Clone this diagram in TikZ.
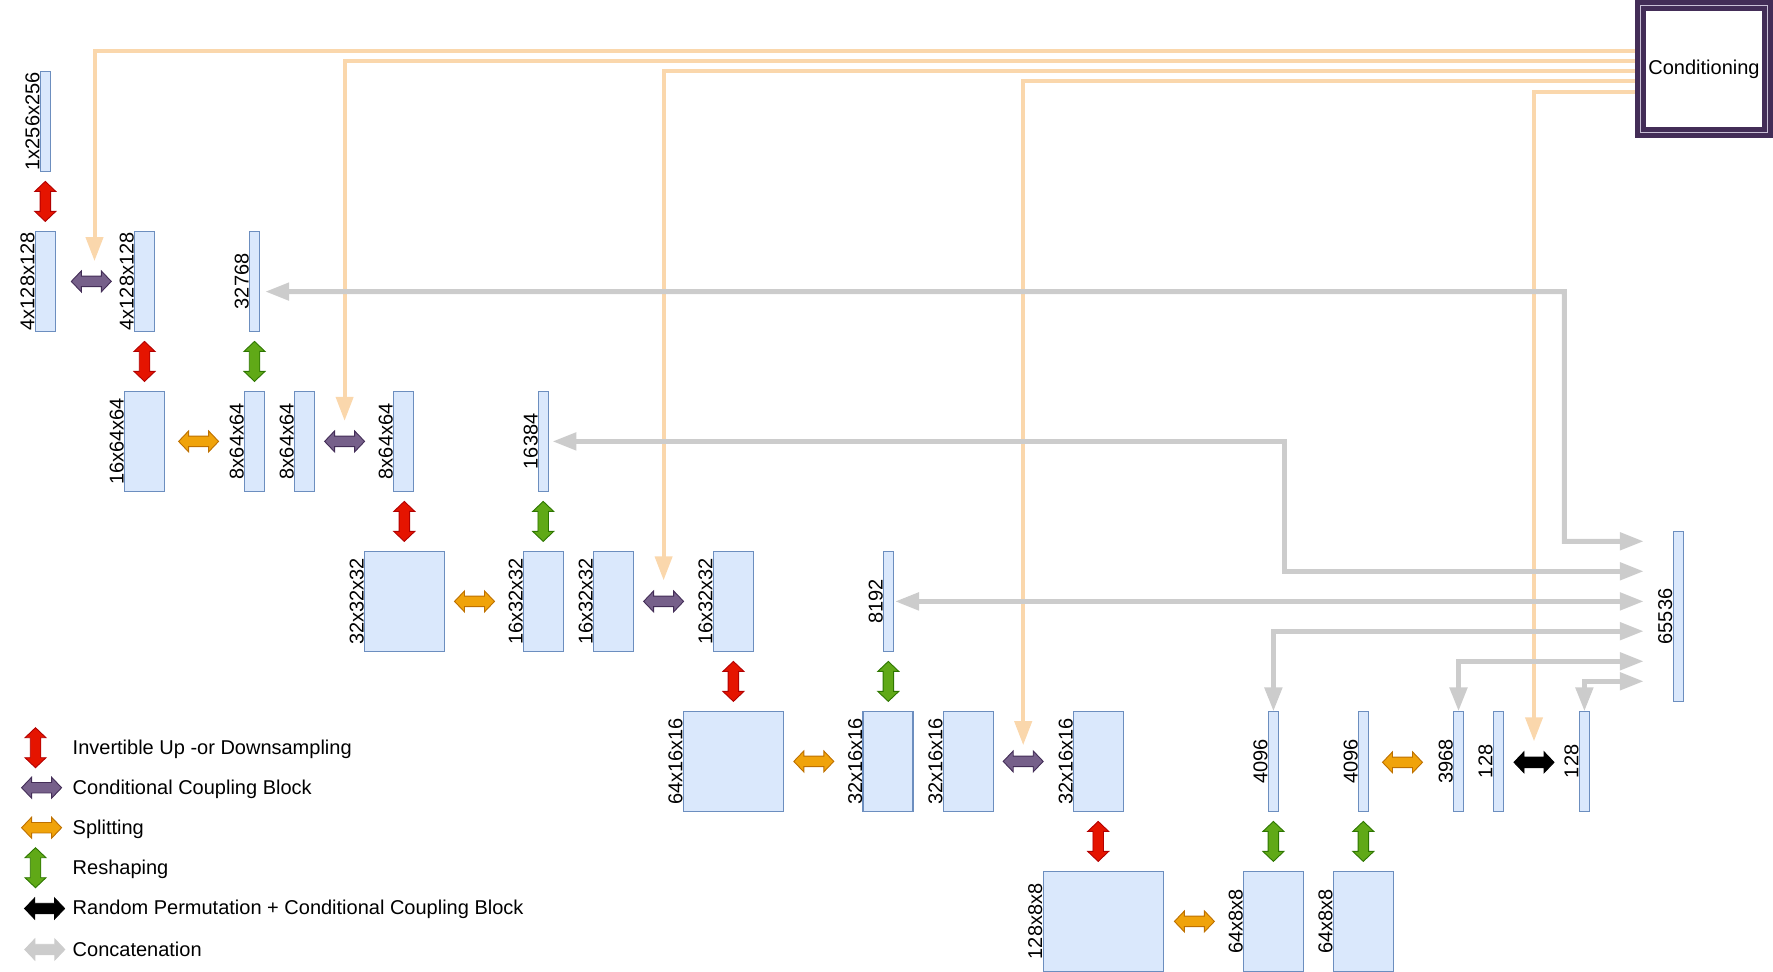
\documentclass[tikz,border=0pt]{standalone}
\usepackage{fontspec}
\setmainfont{Liberation Sans}
\usetikzlibrary{arrows.meta}
\pgfdeclarelayer{bg}
\pgfsetlayers{bg,main}
\definecolor{boxfill}{HTML}{DAE8FC}
\definecolor{boxline}{HTML}{6C8EBF}
\definecolor{redF}{HTML}{E51400}\definecolor{redD}{HTML}{B20000}
\definecolor{purF}{HTML}{76608A}\definecolor{purD}{HTML}{432D57}
\definecolor{orF}{HTML}{F0A30A}\definecolor{orD}{HTML}{BD7000}
\definecolor{grF}{HTML}{60A917}\definecolor{grD}{HTML}{2D7600}
\definecolor{catcol}{HTML}{CCCCCC}
\definecolor{condline}{HTML}{FAD7AC}
\definecolor{condD}{HTML}{432D57}
\definecolor{condL}{HTML}{C9C0D6}
\newcommand\myfs{\fontsize{20}{23}\selectfont}
\tikzset{
  tensor/.style={draw=boxline, fill=boxfill, line width=1.2pt, inner sep=0pt, outer sep=0pt, minimum height=100pt},
  lbl/.style={rotate=90, anchor=base, inner sep=0pt, font=\myfs},
  legtxt/.style={anchor=base west, inner sep=0pt, font=\myfs},
  vsz/.style={minimum width=21pt, minimum height=40pt, inner sep=0pt, outer sep=0pt},
  hsz/.style={minimum width=40pt, minimum height=21pt, inner sep=0pt, outer sep=0pt},
  redA/.style={fill=redF, draw=redD, line width=0.9pt, line join=miter},
  purA/.style={fill=purF, draw=purD, line width=0.9pt, line join=miter},
  orA/.style={fill=orF, draw=orD, line width=0.9pt, line join=miter},
  grA/.style={fill=grF, draw=grD, line width=0.9pt, line join=miter},
  blkA/.style={fill=black, draw=black, line width=0.9pt, line join=miter},
  catA/.style={fill=catcol, draw=catcol, line width=0.9pt, line join=miter},
  concat/.style={draw=catcol, line width=5pt, {Triangle[length=24pt,width=17pt]}-{Triangle[length=24pt,width=17pt]}},
  condarr/.style={draw=condline, line width=4pt, -{Triangle[length=24pt,width=17pt]}},
  condbox/.style={draw=condD, double=condL, double distance=1pt, line width=5pt, fill=white,
    minimum width=127pt, minimum height=126.7pt, inner sep=0pt, outer sep=0pt, font=\myfs}
}
% vertical double block arrow: name, position, style
\newcommand\vblk[3]{%
  \node[vsz] (#1) at (#2) {};
  \path[#3] (#1.north) -- ++(10.5,10) -- ++(-5.25,0) -- ++(0,20) -- ++(5.25,0) -- ++(-10.5,10)
    -- ++(-10.5,-10) -- ++(5.25,0) -- ++(0,-20) -- ++(-5.25,0) -- cycle;}
% horizontal double block arrow
\newcommand\hblk[3]{%
  \node[hsz] (#1) at (#2) {};
  \path[#3] (#1.west) -- ++(10,-10.5) -- ++(0,5.25) -- ++(20,0) -- ++(0,-5.25) -- ++(10,10.5)
    -- ++(-10,10.5) -- ++(0,-5.25) -- ++(-20,0) -- ++(0,5.25) -- cycle;}
% tensor box: name, center, width, label
\newcommand\tens[4]{%
  \node[tensor, minimum width=#3] (#1) at (#2) {};
  \node[lbl] (#1l) at ([xshift=-1pt]#1.west) {#4};}
\begin{document}
\begin{tikzpicture}[x=1pt,y=-1pt]
\useasboundingbox (0,0) rectangle (1773,972);

% ---- tensors ----
\tens{b0}{45.4,121.4}{10pt}{1x256x256}
\tens{a1}{45.4,281.4}{20pt}{4x128x128}
\tens{a2}{144.5,281.4}{20pt}{4x128x128}
\tens{a3}{254.5,281.4}{10pt}{32768}
\tens{bb1}{144.5,441.4}{40pt}{16x64x64}
\tens{bb2}{254.6,441.4}{20pt}{8x64x64}
\tens{bb3}{304.5,441.4}{20pt}{8x64x64}
\tens{bb4}{403.6,441.4}{20pt}{8x64x64}
\tens{bb5}{543.6,441.4}{10pt}{16384}
\tens{c1}{404.5,601.4}{80pt}{32x32x32}
\tens{c2}{543.6,601.4}{40pt}{16x32x32}
\tens{c3}{613.6,601.4}{40pt}{16x32x32}
\tens{c4}{733.4,601.4}{40pt}{16x32x32}
\tens{c5}{888.5,601.4}{10pt}{8192}
\tens{d1}{733.4,761.4}{100pt}{64x16x16}
\tens{d2}{888.0,761.4}{50pt}{32x16x16}
\tens{d3}{968.4,761.4}{50pt}{32x16x16}
\tens{d4}{1098.5,761.4}{50pt}{32x16x16}
\tens{d5}{1273.4,761.4}{10pt}{4096}
\tens{d6}{1363.5,761.4}{10pt}{4096}
\tens{d7}{1458.5,761.4}{10pt}{3968}
\tens{d8}{1498.3,761.4}{10pt}{128}
\tens{d9}{1584.4,761.4}{10pt}{128}
\tens{e1}{1103.1,921.4}{120pt}{128x8x8}
\tens{e2}{1273.5,921.4}{60pt}{64x8x8}
\tens{e3}{1363.3,921.4}{60pt}{64x8x8}
\node[tensor, minimum width=10pt, minimum height=169.6pt] (z) at (1678.2,616.5) {};
\node[lbl] (zl) at ([xshift=-1pt]z.west) {65536};

% ---- conditioning ----
\node[condbox] (cond) at (1704,68.85) {\raisebox{-2.5pt}{Conditioning}};

% ---- block arrows ----
\vblk{r1}{45.3,201.4}{redA}
\vblk{r2}{144.5,361.4}{redA}
\vblk{g1}{254.5,361.4}{grA}
\vblk{r3}{404.3,521.4}{redA}
\vblk{g2}{543.2,521.4}{grA}
\vblk{r4}{733.4,681.4}{redA}
\vblk{g3}{888.3,681.4}{grA}
\vblk{r5}{1098.2,841.4}{redA}
\vblk{g4}{1273.4,841.4}{grA}
\vblk{g5}{1363.3,841.4}{grA}
\hblk{p1}{91.3,281.4}{purA}
\hblk{o1}{198.6,441.4}{orA}
\hblk{p2}{344.6,441.4}{purA}
\hblk{o2}{474.5,601.4}{orA}
\hblk{p3}{663.6,601.4}{purA}
\hblk{o3}{813.8,761.4}{orA}
\hblk{p4}{1023.2,761.4}{purA}
\hblk{o5}{1402.5,762.3}{orA}
\hblk{k1}{1534,762.3}{blkA}
\hblk{o4}{1194.4,921.4}{orA}

\coordinate (zin) at ([xshift=-29.4pt]z.west);

% ---- connectors ----
\begin{pgfonlayer}{bg}
\draw[condarr] (cond.west |- 0,51) -| ([shift={(3.2,-9.8)}]p1.north);
\draw[condarr] (cond.west |- 0,61.3) -| ([yshift=10pt]p2.north);
\draw[condarr] (cond.west |- 0,71.3) -| ([yshift=10.5pt]p3.north);
\draw[condarr] (cond.west |- 0,81.3) -| ([yshift=5.7pt]p4.north);
\draw[condarr] (cond.west |- 0,91.5) -| ([yshift=10.5pt]k1.north);

\draw[concat] ([shift={(5.7,10.2)}]a3.east) -- (1564.4,291.7) -- (1564.4,541.3) -- (zin |- 0,541.3);
\draw[concat] ([xshift=3.8pt]bb5.east) -- (1284.3,441.4) -- (1284.3,571.3) -- (zin |- 0,571.3);
\draw[concat] ([xshift=1.5pt]c5.east) -- (zin |- c5.east);
\draw[concat] (zin |- 0,631.2) -| (d5.north);
\draw[concat] (zin |- 0,661.3) -| (d7.north);
\draw[concat] (zin |- 0,681.3) -| (d9.north);
\end{pgfonlayer}

% ---- legend ----
\vblk{lr}{35.5,747.7}{redA}
\hblk{lp}{41.6,787.7}{purA}
\hblk{lo}{41.6,827.7}{orA}
\vblk{lg}{35.5,867.7}{grA}
\hblk{lk}{44.6,908.5}{blkA}
\hblk{lc}{44.8,949.5}{catA}
\node[legtxt] (t1) at (72.5,754.2) {Invertible Up -or Downsampling};
\node[legtxt] (t2) at (72.5,794.5) {Conditional Coupling Block};
\node[legtxt] (t3) at (72.5,834.2) {Splitting};
\node[legtxt] (t4) at (72.5,874.2) {Reshaping};
\node[legtxt] (t5) at (72.5,914.0) {Random Permutation + Conditional Coupling Block};
\node[legtxt] (t6) at (72.5,956.0) {Concatenation};
\end{tikzpicture}
\end{document}
